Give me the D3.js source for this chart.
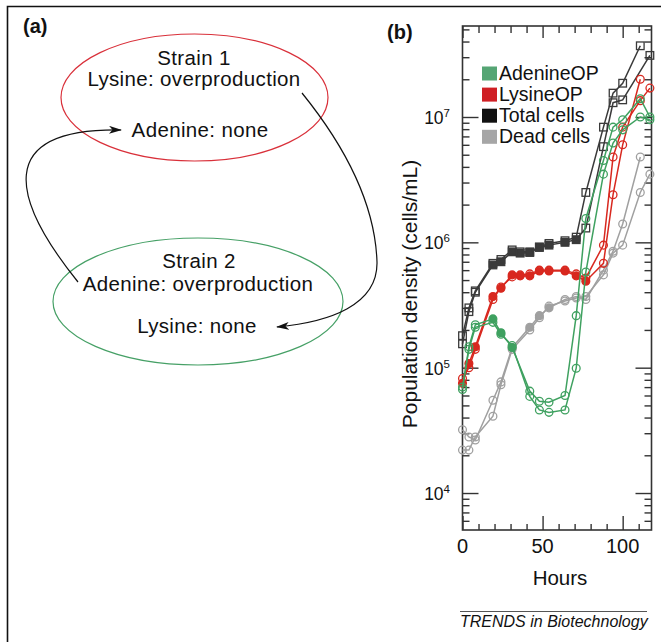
<!DOCTYPE html>
<html>
<head>
<meta charset="utf-8">
<script src="https://cdn.jsdelivr.net/npm/d3@7"></script>
<style>
body { margin: 0; background: #fff; }
text { font-family: "Liberation Sans", Arial, Helvetica, sans-serif; fill: #111; }
</style>
</head>
<body>
<div id="fig"></div>
<script>
// ---- data ----
var hours = [0, 4, 8, 19, 24, 31, 36, 42, 48, 54, 64, 71, 77, 88, 94, 100, 111, 117];

// two replicates per population (A drawn with some filled markers, B open)
var adenineA = [6.7e4, 1.47e5, 2.2e5, 2.45e5, 1.9e5, 1.45e5, null, 6.5e4, 5.4e4, 5.3e4, 6.0e4, 2.6e5, 1.55e6, 4.5e6, 8.3e6, 9.5e6, 1.4e7, 1.0e7];
var adenineB = [7.0e4, 1.4e5, 2.1e5, 2.3e5, 1.85e5, 1.5e5, null, 5.9e4, 4.6e4, 4.4e4, 4.6e4, 9.9e4, 5.8e5, 3.5e6, 6.2e6, 7.9e6, 1.0e7, 9.5e6];
var lysineA = [7.5e4, 1.08e5, 1.47e5, 3.7e5, 4.3e5, 5.5e5, 5.4e5, 5.4e5, 5.9e5, 5.9e5, 5.9e5, 5.4e5, 4.9e5, 6.8e5, 2.4e6, 6.0e6, 2.0e7, null];
var lysineB = [8.2e4, 1.0e5, 1.4e5, 3.5e5, 4.4e5, 5.3e5, 5.5e5, 5.6e5, 6.0e5, 6.0e5, 6.0e5, 5.6e5, 5.2e5, 9.5e5, 4.8e6, 8.3e6, 1.35e7, 1.7e7];
var totalA = [1.55e5, 2.8e5, 4.0e5, 6.6e5, 7.0e5, 8.4e5, 8.2e5, 8.3e5, 9.1e5, 9.5e5, 1.0e6, 1.05e6, 1.3e6, 5.8e6, 1.3e7, 1.37e7, null, 3.1e7];
var totalB = [1.8e5, 3.0e5, 4.1e5, 6.8e5, 7.3e5, 8.7e5, 8.4e5, 8.4e5, 9.2e5, 9.8e5, 1.03e6, 1.1e6, 2.5e6, 8.3e6, 1.55e7, 1.86e7, 3.7e7, null];
var deadA = [3.2e4, 2.8e4, 2.65e4, 5.5e4, 7.7e4, 1.45e5, null, 2.1e5, 2.6e5, 3.0e5, 3.5e5, 3.7e5, 3.5e5, 6.0e5, 8.5e5, 1.4e6, 4.8e6, null];
var deadB = [2.2e4, 2.2e4, 2.8e4, 4.1e4, 7.3e4, 1.4e5, null, 2.0e5, 2.5e5, 3.1e5, 3.4e5, 3.6e5, 3.7e5, 5.5e5, 8.2e5, 9.5e5, 2.5e6, 3.5e6];

// hours at which replicate A has a solid marker
var adenineFilled = [19, 24, 31];
var lysineFilled = [0, 4, 8, 19, 24, 31, 36, 42, 48, 54, 64, 71, 77];
var totalFilled = [19, 24, 31, 36, 42, 48, 54, 64, 71];
var deadFilled = [31, 42, 48, 54];

var legendNames = ["AdenineOP", "LysineOP", "Total cells", "Dead cells"];
var xTickMajor = [0, 50, 100];
var xTickMinor = [10, 20, 30, 40, 60, 70, 80, 90, 110];
var yDecades = [1e4, 1e5, 1e6, 1e7];

var strainText = [
  ["Strain 1", 194, 65], ["Lysine: overproduction", 194, 86], ["Adenine: none", 200, 137],
  ["Strain 2", 199, 268], ["Adenine: overproduction", 198, 291], ["Lysine: none", 197, 333]
];

var W = 661, H = 642;

var svg = d3.select("#fig").append("svg")
  .attr("width", W)
  .attr("height", H);

// figure frame (left + top visible)
svg.append("path")
  .attr("d", "M7.5,642 L7.5,6.5 L661,6.5")
  .attr("fill", "none")
  .attr("stroke", "#111")
  .attr("stroke-width", 1.6);

// ---------------- panel (a) ----------------
svg.append("text").attr("x", 23).attr("y", 33)
  .style("font-size", "20px").style("font-weight", "bold").text("(a)");

var defs = svg.append("defs");
defs.append("marker")
  .attr("id", "arrow")
  .attr("markerUnits", "userSpaceOnUse")
  .attr("markerWidth", 14).attr("markerHeight", 10)
  .attr("refX", 12).attr("refY", 4)
  .attr("orient", "auto")
  .append("path")
  .attr("d", "M0,0 L13,4 L0,8 L3.5,4 Z")
  .attr("fill", "#111");

svg.append("ellipse")
  .attr("cx", 194.5).attr("cy", 97.5).attr("rx", 133.5).attr("ry", 63.5)
  .attr("fill", "none").attr("stroke", "#d9303a").attr("stroke-width", 1.2);
svg.append("ellipse")
  .attr("cx", 198).attr("cy", 301.5).attr("rx", 145).attr("ry", 63.5)
  .attr("fill", "none").attr("stroke", "#46a066").attr("stroke-width", 1.2);

svg.selectAll("text.strain")
  .data(strainText)
  .enter().append("text")
  .attr("class", "strain")
  .attr("x", d => d[1]).attr("y", d => d[2])
  .attr("text-anchor", "middle")
  .style("font-size", "20.5px")
  .style("letter-spacing", "0.35px")
  .text(d => d[0]);

svg.append("path")
  .attr("d", "M78,282 C12,200 -8,128 121,130")
  .attr("fill", "none").attr("stroke", "#111").attr("stroke-width", 1.2)
  .attr("marker-end", "url(#arrow)");
svg.append("path")
  .attr("d", "M302,93 C340,140 375,200 377,262 C378,305 330,322 277,327")
  .attr("fill", "none").attr("stroke", "#111").attr("stroke-width", 1.2)
  .attr("marker-end", "url(#arrow)");

// ---------------- panel (b) ----------------
svg.append("text").attr("x", 387).attr("y", 39)
  .style("font-size", "20px").style("font-weight", "bold").text("(b)");

var plotL = 462.5, plotR = 651.5, plotT = 26, plotB = 530;

var x = d3.scaleLinear().domain([0, 118]).range([plotL, plotR]);
var y = d3.scaleLog().domain([Math.pow(10, 3.705), Math.pow(10, 7.726)]).range([plotB, plotT]);

var yMinor = [];
[1e3, 1e4, 1e5, 1e6, 1e7].forEach(function(dec) {
  for (var k = 2; k <= 9; k++) {
    var v = dec * k;
    if (v > y.domain()[0] && v < y.domain()[1]) yMinor.push(v);
  }
});

var axisColor = "#333";
function styleAxis(g) {
  g.select(".domain").remove();
  g.selectAll("line").attr("stroke", axisColor).attr("stroke-width", 1.4);
  g.selectAll("text").remove();
}

// left / right y ticks (inside)
svg.append("g").attr("transform", "translate(" + plotL + ",0)")
  .call(d3.axisLeft(y).tickValues(yDecades).tickSizeInner(-16).tickFormat("")).call(styleAxis);
svg.append("g").attr("transform", "translate(" + plotL + ",0)")
  .call(d3.axisLeft(y).tickValues(yMinor).tickSizeInner(-7).tickFormat("")).call(styleAxis);
svg.append("g").attr("transform", "translate(" + plotR + ",0)")
  .call(d3.axisRight(y).tickValues(yDecades).tickSizeInner(-16).tickFormat("")).call(styleAxis);
svg.append("g").attr("transform", "translate(" + plotR + ",0)")
  .call(d3.axisRight(y).tickValues(yMinor).tickSizeInner(-7).tickFormat("")).call(styleAxis);

// bottom / top x ticks (inside)
svg.append("g").attr("transform", "translate(0," + plotB + ")")
  .call(d3.axisBottom(x).tickValues(xTickMajor).tickSizeInner(-14).tickFormat("")).call(styleAxis);
svg.append("g").attr("transform", "translate(0," + plotB + ")")
  .call(d3.axisBottom(x).tickValues(xTickMinor).tickSizeInner(-6).tickFormat("")).call(styleAxis);
svg.append("g").attr("transform", "translate(0," + plotT + ")")
  .call(d3.axisTop(x).tickValues(xTickMajor).tickSizeInner(-12).tickFormat("")).call(styleAxis);
svg.append("g").attr("transform", "translate(0," + plotT + ")")
  .call(d3.axisTop(x).tickValues(xTickMinor).tickSizeInner(-7).tickFormat("")).call(styleAxis);

svg.append("rect")
  .attr("x", plotL).attr("y", plotT)
  .attr("width", plotR - plotL).attr("height", plotB - plotT)
  .attr("fill", "none").attr("stroke", axisColor).attr("stroke-width", 1.6);

// y tick labels 10^n
var yl = svg.selectAll("text.ylab")
  .data(yDecades)
  .enter().append("text")
  .attr("class", "ylab")
  .attr("x", 450)
  .attr("y", d => y(d) + 7)
  .attr("text-anchor", "end")
  .style("font-size", "17.5px");
yl.append("tspan").text("10");
yl.append("tspan").attr("dy", -7).style("font-size", "11.5px")
  .text(d => Math.round(Math.log10(d)));

// x tick labels
svg.selectAll("text.xlab")
  .data(xTickMajor)
  .enter().append("text")
  .attr("class", "xlab")
  .attr("x", d => x(d))
  .attr("y", 553)
  .attr("text-anchor", "middle")
  .style("font-size", "20px")
  .text(d => d);

svg.append("text")
  .attr("x", 560).attr("y", 585)
  .attr("text-anchor", "middle")
  .style("font-size", "20.5px")
  .text("Hours");

svg.append("text")
  .attr("transform", "translate(416.5,294) rotate(-90)")
  .attr("text-anchor", "middle")
  .style("font-size", "21px")
  .text("Population density (cells/mL)");

// series
var series = [
  { reps: [deadA, deadB], filled: deadFilled, line: "#a0a0a0", marker: "circle" },
  { reps: [totalA, totalB], filled: totalFilled, line: "#3a3a3a", marker: "square" },
  { reps: [lysineA, lysineB], filled: lysineFilled, line: "#d8281f", marker: "circle" },
  { reps: [adenineA, adenineB], filled: adenineFilled, line: "#3fa160", marker: "circle" }
];

var line = d3.line().x(d => x(d.h)).y(d => y(d.v));

series.forEach(function(s) {
  s.reps.forEach(function(vals, ri) {
    var pts = hours.map((h, i) => ({ h: h, v: vals[i] })).filter(d => d.v != null);
    var g = svg.append("g");
    g.append("path")
      .attr("d", line(pts))
      .attr("fill", "none")
      .attr("stroke", s.line)
      .attr("stroke-width", 1.5);
    pts.forEach(function(d) {
      var solid = ri === 0 && s.filled.indexOf(d.h) >= 0;
      if (s.marker === "square") {
        g.append("rect")
          .attr("x", x(d.h) - 3.8).attr("y", y(d.v) - 3.8)
          .attr("width", 7.6).attr("height", 7.6)
          .attr("fill", solid ? s.line : "none")
          .attr("stroke", s.line).attr("stroke-width", 1.3);
      } else {
        g.append("circle")
          .attr("cx", x(d.h)).attr("cy", y(d.v)).attr("r", 3.9)
          .attr("fill", solid ? s.line : "none")
          .attr("stroke", s.line).attr("stroke-width", 1.3);
      }
    });
  });
});

// legend
var legendColors = ["#55a574", "#cf1f24", "#111111", "#a6a6a6"];
var lg = svg.selectAll("g.leg")
  .data(legendNames)
  .enter().append("g")
  .attr("class", "leg")
  .attr("transform", (d, i) => "translate(482," + (66.5 + i * 21.1) + ")");
lg.append("rect")
  .attr("width", 15).attr("height", 14)
  .attr("fill", (d, i) => legendColors[i]);
lg.append("text")
  .attr("x", 17).attr("y", 13.5)
  .style("font-size", "19.5px")
  .text(d => d);

// journal footer
svg.append("line")
  .attr("x1", 460).attr("x2", 647)
  .attr("y1", 611.5).attr("y2", 611.5)
  .attr("stroke", "#555").attr("stroke-width", 1);
svg.append("text")
  .attr("x", 460).attr("y", 627)
  .style("font-size", "16px").style("font-style", "italic")
  .text("TRENDS in Biotechnology");
</script>
</body>
</html>
